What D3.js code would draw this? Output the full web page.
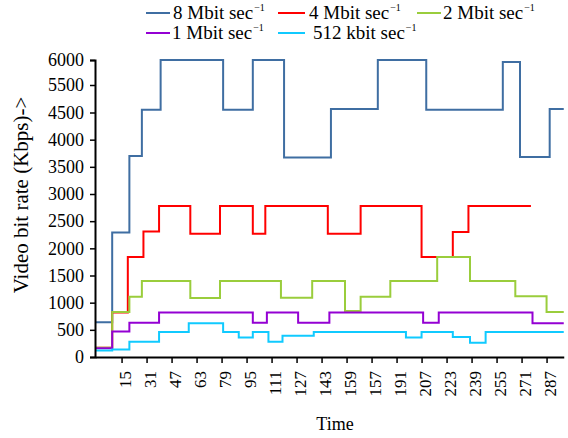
<!DOCTYPE html>
<html>
<head>
<meta charset="utf-8">
<title>Video bit rate</title>
<script src="https://d3js.org/d3.v7.min.js"></script>
<style>
  body { margin: 0; background: #fff; }
  svg { display: block; font-family: "Liberation Serif", "Times New Roman", serif; }
  svg text { font-family: "Liberation Serif", "Times New Roman", serif; }
  .axis path, .axis line { stroke: #000; }
</style>
</head>
<body>
<svg class="chart"></svg>
<script>
// series (legend order)
var names = ["8 Mbit sec", "4 Mbit sec", "2 Mbit sec", "1 Mbit sec", "512 kbit sec"];
var colors = ["#3f6ea2", "#ff0000", "#9acd3c", "#9400d3", "#10caff"];

// each series: time where a level starts, and that level (Kbps)
var t8 = [-2, 9, 20, 28, 40, 80, 99, 119, 149, 179, 210, 259, 270, 289];
var v8 = [640, 2290, 3700, 4600, 6000, 4600, 6000, 3670, 4630, 6000, 4600, 5960, 3680, 4630];

var t4 = [-2, 9, 19, 29, 39, 59, 78, 99, 107, 147, 168, 207, 227, 237];
var v4 = [170, 820, 1840, 2310, 2780, 2270, 2780, 2270, 2780, 2270, 2780, 1840, 2300, 2780];

var t2 = [-2, 9, 20, 28, 59, 78, 117, 137, 158, 168, 187, 217, 238, 267, 287];
var v2 = [170, 830, 1110, 1400, 1085, 1400, 1090, 1400, 845, 1110, 1400, 1840, 1400, 1120, 830];

var t1 = [-2, 9, 20, 39, 99, 108, 128, 148, 208, 218, 278];
var v1 = [160, 470, 630, 820, 630, 820, 630, 820, 630, 820, 620];

var t512 = [-2, 9, 20, 39, 58, 80, 90, 99, 109, 118, 138, 197, 207, 227, 238, 248];
var v512 = [120, 140, 280, 460, 620, 460, 360, 460, 280, 390, 460, 360, 460, 370, 260, 460];

var tEnd = [298, 277, 298, 298, 298];

// axis ticks (the reference prints 157 where 175 belongs)
var xTicks = [15, 31, 47, 63, 79, 95, 111, 127, 143, 159, 175, 191, 207, 223, 239, 255, 271, 287];
var xTickLabels = ["15", "31", "47", "63", "79", "95", "111", "127", "143", "159", "157", "191", "207", "223", "239", "255", "271", "287"];
var yTicks = [0, 500, 1000, 1500, 2000, 2500, 3000, 3500, 4000, 4500, 5500, 6000];

var times = [t8, t4, t2, t1, t512];
var levels = [v8, v4, v2, v1, v512];

var series = names.map(function(n, i) {
  var pts = times[i].map(function(t, j) { return [t, levels[i][j]]; });
  pts.push([tEnd[i], levels[i][levels[i].length - 1]]);
  return { name: n, color: colors[i], points: pts };
});

// chart
var margin = {top: 60, left: 95};
var width = 468.75, height = 297;

var svg = d3.select(".chart")
  .attr("width", 568)
  .attr("height", 438);

svg.append("rect").attr("width", 568).attr("height", 438).attr("fill", "#fff");

var chart = svg.append("g")
  .attr("transform", "translate(" + margin.left + "," + margin.top + ")");

var x = d3.scaleLinear().domain([-2, 298]).range([0, width]);
// the printed y axis is not evenly spaced at the top
var y = d3.scaleLinear().domain([0, 4500, 5500, 6000]).range([height, 52.5, 25, 0]);

var line = d3.line()
  .x(function(d) { return x(d[0]); })
  .y(function(d) { return y(d[1]); })
  .curve(d3.curveStepAfter);

chart.selectAll(".series")
  .data(series)
  .enter().append("path")
  .attr("class", "series")
  .attr("fill", "none")
  .attr("stroke", function(d) { return d.color; })
  .attr("stroke-width", 2)
  .attr("d", function(d) { return line(d.points); });

// y axis
var yAxis = chart.append("g")
  .attr("class", "axis")
  .call(d3.axisLeft(y).tickValues(yTicks).tickFormat(d3.format("d")).tickSize(5).tickPadding(6));
yAxis.select(".domain").attr("stroke-width", 2);
yAxis.selectAll(".tick line").attr("stroke-width", 1.5);
yAxis.selectAll("text").attr("fill", "#000").style("font-size", "18px");

// x axis
var xAxis = chart.append("g")
  .attr("class", "axis")
  .attr("transform", "translate(0," + height + ")")
  .call(d3.axisBottom(x).tickValues(xTicks)
    .tickFormat(function(d, i) { return xTickLabels[i]; })
    .tickSize(6).tickSizeOuter(0));
xAxis.select(".domain").attr("stroke-width", 2);
xAxis.selectAll(".tick line").attr("stroke-width", 1.5);
xAxis.selectAll("text")
  .attr("fill", "#000")
  .style("font-size", "17px")
  .attr("transform", "rotate(-90)")
  .attr("text-anchor", "end")
  .attr("x", -14)
  .attr("y", 0)
  .attr("dy", "0.5em")
  .attr("dx", 0);

// axis titles
svg.append("text")
  .attr("transform", "translate(28,195) rotate(-90)")
  .attr("text-anchor", "middle")
  .style("font-size", "21px")
  .text("Video bit rate (Kbps)->");

svg.append("text")
  .attr("x", 335)
  .attr("y", 430)
  .attr("text-anchor", "middle")
  .style("font-size", "18px")
  .text("Time");

// legend
var legendPos = [
  {lx: 146, lx2: 170, tx: 173, y: 19},
  {lx: 278, lx2: 305, tx: 309, y: 19},
  {lx: 417, lx2: 441, tx: 443, y: 19},
  {lx: 146, lx2: 170, tx: 172, y: 39},
  {lx: 278, lx2: 305, tx: 313, y: 39}
];

var legend = svg.selectAll(".legend")
  .data(series)
  .enter().append("g")
  .attr("class", "legend");

legend.append("line")
  .attr("x1", function(d, i) { return legendPos[i].lx; })
  .attr("x2", function(d, i) { return legendPos[i].lx2; })
  .attr("y1", function(d, i) { return legendPos[i].y - 6; })
  .attr("y2", function(d, i) { return legendPos[i].y - 6; })
  .attr("stroke", function(d) { return d.color; })
  .attr("stroke-width", 2);

var lt = legend.append("text")
  .attr("x", function(d, i) { return legendPos[i].tx; })
  .attr("y", function(d, i) { return legendPos[i].y; })
  .style("font-size", "19px");
lt.append("tspan").text(function(d) { return d.name; });
lt.append("tspan")
  .attr("dx", 1)
  .attr("dy", -8)
  .style("font-size", "10px")
  .text("\u22121");
</script>
</body>
</html>
